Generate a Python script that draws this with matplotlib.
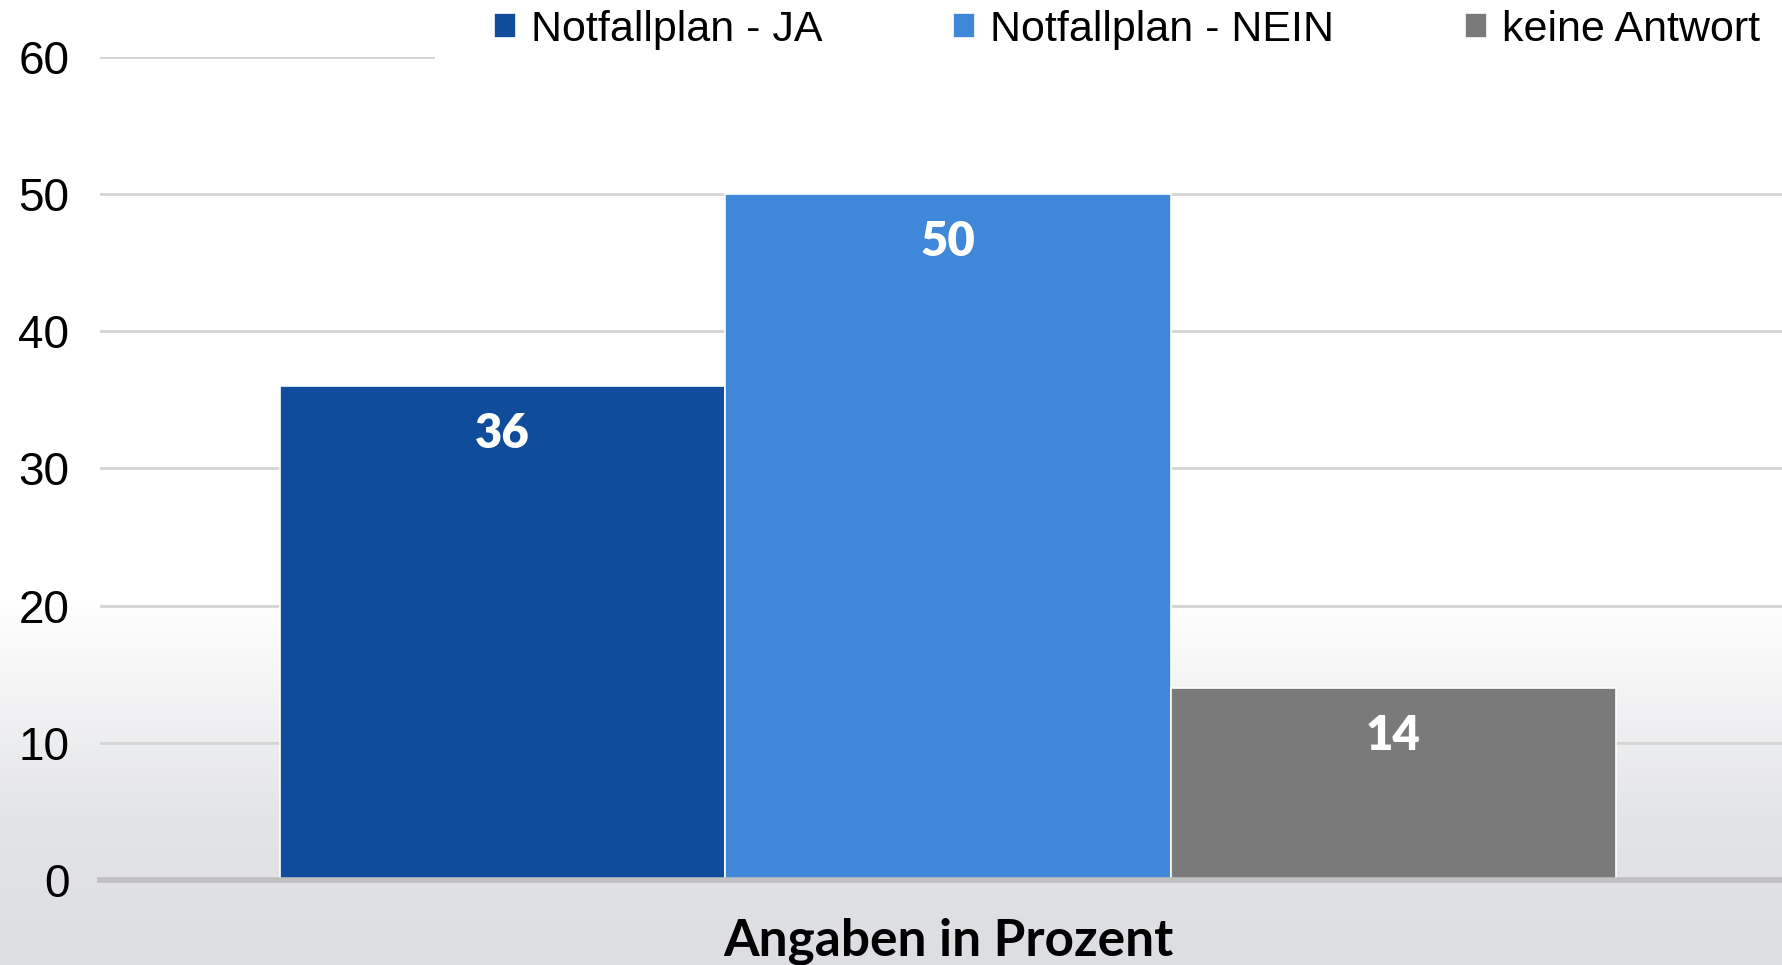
import numpy as np
import matplotlib
matplotlib.use("Agg")
import matplotlib.pyplot as plt
from matplotlib.colors import LinearSegmentedColormap
from matplotlib.patches import Rectangle

series = ["Notfallplan - JA", "Notfallplan - NEIN", "keine Antwort"]
values = [36, 50, 14]
colors = ["#104C9C", "#3F87D8", "#7A7A7A"]
xlabel = "Angaben in Prozent"
yticks = [0, 10, 20, 30, 40, 50, 60]

plt.rcParams['font.family'] = ['Liberation Sans', 'DejaVu Sans']

fig = plt.figure(figsize=(17.83, 9.65), dpi=100)

# background: white on top, light grey gradient towards the bottom
bg = fig.add_axes([0, 0, 1, 1], zorder=-10)
grad = np.linspace(0, 1, 256).reshape(-1, 1)
cmap = LinearSegmentedColormap.from_list("bg", [(0, "#dcdee2"), (0.15, "#e3e4e7"), (0.38, "#ffffff"), (1, "#ffffff")])
bg.imshow(grad, aspect="auto", cmap=cmap, origin="lower", extent=[0, 1, 0, 1])
bg.axis("off")

ax = fig.add_axes([0.0561, 0.0881, 0.9439, 0.853])
ax.set_facecolor("none")
x = np.arange(len(values))
bars = ax.bar(x, values, width=1.0, color=colors, edgecolor="white", linewidth=1.2, label=series, zorder=3)

for xi, v in zip(x, values):
    ax.text(xi, v - 3.5, str(v), ha="center", va="center", color="white",
            fontsize=34, fontweight="heavy", family=["Lato", "DejaVu Sans"], zorder=4)

ax.set_xlim(-0.904, 2.875)
ax.set_ylim(0, 60)
ax.set_yticks(yticks)
ax.set_xticks([])
ax.tick_params(axis="y", length=0, pad=22, labelsize=33, labelcolor="black")
ax.yaxis.grid(True, color="#d4d4d4", linewidth=2)
ax.set_axisbelow(True)
for s in ["top", "right", "left"]:
    ax.spines[s].set_visible(False)
ax.spines["bottom"].set_color("#c0c0c0")
ax.spines["bottom"].set_linewidth(4)
ax.spines["bottom"].set_zorder(5)

fig.text(0.532, 0.025, xlabel, ha="center", va="center", fontsize=37,
         fontweight="bold", family=["Lato", "DejaVu Sans"])

# white legend area covering the top gridline
fig.patches.append(Rectangle((0.244, 0.925), 0.756, 0.075, transform=fig.transFigure,
                             facecolor="white", edgecolor="none", zorder=1))

leg = fig.legend(handles=bars, labels=series, loc="upper right", bbox_to_anchor=(0.992, 0.999),
                 ncol=3, frameon=False, fontsize=31, handlelength=0.5, handleheight=0.5,
                 handletextpad=0.35, columnspacing=3.05, borderpad=0.2, borderaxespad=0.0)

fig.savefig("out.png", dpi=100)
